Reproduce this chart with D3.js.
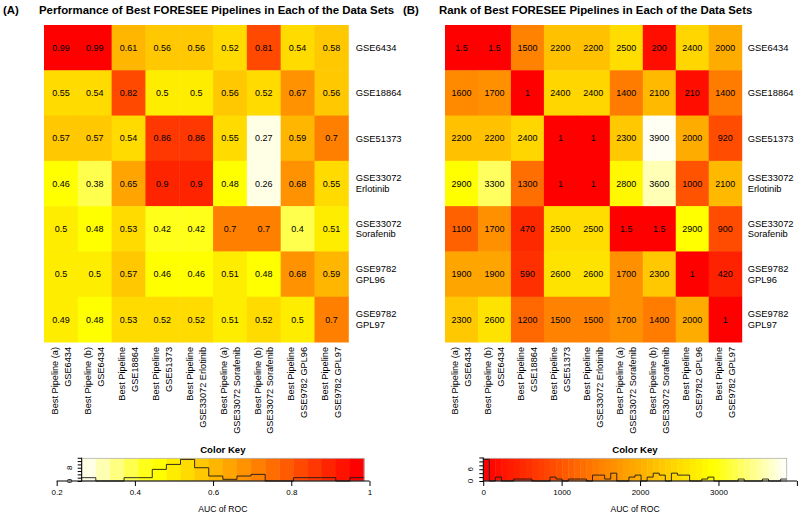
<!DOCTYPE html>
<html><head><meta charset="utf-8">
<script src="https://cdn.jsdelivr.net/npm/d3@7"></script>
<style>
body{margin:0;background:#fff}
text{font-family:"Liberation Sans",Arial,Helvetica,sans-serif;fill:#000}
</style>
</head><body>
<svg id="c" width="800" height="514"></svg>
<script>
// ---------- data ----------
const rowLabels = [["GSE6434"],["GSE18864"],["GSE51373"],["GSE33072","Erlotinib"],["GSE33072","Sorafenib"],["GSE9782","GPL96"],["GSE9782","GPL97"]];
const colLabels = [
  ["Best Pipeline (a)","GSE6434"],["Best Pipeline (b)","GSE6434"],["Best Pipeline","GSE18864"],
  ["Best Pipeline","GSE51373"],["Best Pipeline","GSE33072 Erlotinib"],["Best Pipeline (a)","GSE33072 Sorafenib"],
  ["Best Pipeline (b)","GSE33072 Sorafenib"],["Best Pipeline","GSE9782 GPL96"],["Best Pipeline","GSE9782 GPL97"]];
const aucValues = [
  [0.986,0.986,0.61,0.56,0.56,0.52,0.81,0.54,0.58],
  [0.55,0.54,0.82,0.5,0.5,0.56,0.52,0.67,0.56],
  [0.57,0.57,0.54,0.86,0.86,0.55,0.27,0.59,0.7],
  [0.46,0.38,0.65,0.9,0.9,0.48,0.264,0.68,0.55],
  [0.5,0.48,0.53,0.42,0.42,0.7,0.7,0.4,0.51],
  [0.5,0.5,0.57,0.46,0.46,0.51,0.48,0.68,0.59],
  [0.49,0.48,0.53,0.52,0.52,0.51,0.52,0.5,0.7]];
const rankValues = [
  [1.5,1.5,1500,2200,2200,2500,200,2400,2000],
  [1600,1700,1,2400,2400,1400,2100,210,1400],
  [2200,2200,2400,1,1,2300,3870,2000,920],
  [2900,3300,1300,1,1,2800,3600,1000,2100],
  [1100,1700,470,2500,2500,1.5,1.5,2900,900],
  [1900,1900,590,2600,2600,1700,2300,1,420],
  [2300,2600,1200,1500,1500,1700,1400,2000,1]];
const titles = [["(A)","Performance of Best FORESEE Pipelines in Each of the Data Sets"],
                ["(B)","Rank of Best FORESEE Pipelines in Each of the Data Sets"]];
const aucAxisTicks = [0.2,0.4,0.6,0.8,1];
const aucAxisLabels = ["0.2","0.4","0.6","0.8","1"];
const rankAxisTicks = [0,1000,2000,3000,4000];
const rankAxisLabels = ["0","1000","2000","3000",""];
const aucCountTicks = [0,2,4,6,8,10,12,14];
const aucCountLabels = [0,8];
const rankCountTicks = [0,2,4,6,8,10,12];
const rankCountLabels = [0,6];
const keyTitle = "Color Key";
const keyXLabel = "AUC of ROC";

// ---------- R colour palettes ----------
function hex(r,g,b){return "#"+[r,g,b].map(v=>Math.round(v*255).toString(16).padStart(2,"0")).join("");}
function heatColors(n){
  const j = Math.floor(n/4), i = n-j, out=[];
  for(let k=0;k<i;k++){const h = i>1 ? (1/6)*k/(i-1) : 0; out.push(hex(1,h*6,0));}
  for(let k=0;k<j;k++){const s = j>1 ? (1-1/(2*j)) - k*((1-1/(2*j))-1/(2*j))/(j-1) : 1-1/(2*j); out.push(hex(1,1,1-s));}
  return out;
}

const svg = d3.select("#c");
const fmt = d3.format(".2~r");

const panels = [
  {values:aucValues, colors:heatColors(20).reverse(), x0:44, x1:348.3, labX:355.7,
   kx0:81.7, kx1:364, axTicks:aucAxisTicks, axLabels:aucAxisLabels,
   cTicks:aucCountTicks, cLabels:aucCountLabels, title:titles[0], tx:3, tx2:39},
  {values:rankValues, colors:heatColors(50), x0:445, x1:741.7, labX:747.7,
   kx0:483.3, kx1:786.7, axTicks:rankAxisTicks, axLabels:rankAxisLabels,
   cTicks:rankCountTicks, cLabels:rankCountLabels, title:titles[1], tx:403, tx2:439}
];
const y0 = 25, y1 = 342, ky0 = 458.3, ky1 = 481;

panels.forEach(p=>{
  const g = svg.append("g");
  const flat = p.values.flat();
  const [mn, mx] = d3.extent(flat);
  const n = p.colors.length;
  const color = d3.scaleQuantize().domain([mn,mx]).range(p.colors);
  const x = d3.scaleBand().domain(d3.range(colLabels.length)).range([p.x0,p.x1]);
  const y = d3.scaleBand().domain(d3.range(rowLabels.length)).range([y0,y1]);

  // title
  g.append("text").attr("x",p.tx).attr("y",14).style("font-weight","bold").style("font-size","11.4px").text(p.title[0]);
  g.append("text").attr("x",p.tx2).attr("y",14).style("font-weight","bold").style("font-size","11.4px").text(p.title[1]);

  // cells
  const cells = [];
  p.values.forEach((row,r)=>row.forEach((v,c)=>cells.push({r,c,v})));
  g.selectAll("rect.cell").data(cells).join("rect").attr("class","cell")
    .attr("x",d=>x(d.c)).attr("y",d=>y(d.r))
    .attr("width",x.bandwidth()+0.5).attr("height",y.bandwidth()+0.5)
    .attr("fill",d=>color(d.v));
  g.selectAll("text.val").data(cells).join("text").attr("class","val")
    .attr("x",d=>x(d.c)+x.bandwidth()/2).attr("y",d=>y(d.r)+y.bandwidth()/2)
    .attr("text-anchor","middle").attr("dy","0.35em").style("font-size","9px")
    .text(d=>fmt(d.v));

  // row labels
  rowLabels.forEach((lines,r)=>{
    const t = g.append("text").attr("x",p.labX).style("font-size","9.4px");
    const cy = y(r)+y.bandwidth()/2, lh = 10.8;
    lines.forEach((s,i)=>{
      t.append("tspan").attr("x",p.labX).attr("y",cy+(i-(lines.length-1)/2)*lh).attr("dy","0.35em").text(s);
    });
  });

  // column labels (vertical)
  colLabels.forEach((lines,c)=>{
    const cx = x(c)+x.bandwidth()/2, top = y1+5, lh = 13;
    const t = g.append("text").attr("transform",`translate(${cx},${top}) rotate(-90)`)
      .attr("text-anchor","end").style("font-size","9.2px");
    lines.forEach((s,i)=>{
      t.append("tspan").attr("x",0).attr("y",(i-(lines.length-1)/2)*lh).attr("dy","0.35em").text(s);
    });
  });

  // ---------- colour key ----------
  const kx = d3.scaleLinear().domain([mn,mx]).range([p.kx0,p.kx1]);
  const breaks = d3.range(n+1).map(i=>mn+(mx-mn)*i/n);
  g.selectAll("rect.key").data(d3.range(n)).join("rect").attr("class","key")
    .attr("x",i=>kx(breaks[i])).attr("y",ky0)
    .attr("width",i=>kx(breaks[i+1])-kx(breaks[i])+0.4).attr("height",ky1-ky0)
    .attr("fill",i=>p.colors[i]);
  g.append("rect").attr("x",p.kx0).attr("y",ky0).attr("width",p.kx1-p.kx0).attr("height",ky1-ky0)
    .attr("fill","none").attr("stroke","#b0b0b0").attr("stroke-width",0.8);

  // histogram
  const bins = d3.bin().domain([mn,mx]).thresholds(breaks.slice(1,-1))(flat);
  const counts = bins.map(b=>b.length);
  const maxC = d3.max(counts);
  const ky = d3.scaleLinear().domain([0,maxC/0.95]).range([ky1,ky0]);
  const pts = counts.map((c,i)=>[breaks[i],c]).concat([[breaks[n],counts[n-1]]]);
  g.append("path").attr("d",d3.line().x(d=>kx(d[0])).y(d=>ky(d[1])).curve(d3.curveStepAfter)(pts))
    .attr("fill","none").attr("stroke","#1a1a1a").attr("stroke-width",0.9);

  // key title and axis label
  const kc = (p.kx0+p.kx1)/2;
  g.append("text").attr("x",kc).attr("y",452.5).attr("text-anchor","middle")
    .style("font-weight","bold").style("font-size","9.6px").text(keyTitle);
  g.append("text").attr("x",kc).attr("y",512).attr("text-anchor","middle")
    .style("font-size","8.6px").text(keyXLabel);

  // x axis of key
  const xa = g.append("g").attr("transform",`translate(0,${ky1})`)
    .call(d3.axisBottom(kx).tickValues(p.axTicks).tickSize(5).tickPadding(3)
      .tickFormat((d,i)=>p.axLabels[i]));
  xa.select(".domain").remove();
  xa.append("line").attr("x1",kx(p.axTicks[0])).attr("x2",kx(p.axTicks[p.axTicks.length-1]))
    .attr("stroke","#000");
  xa.selectAll("text").style("font-size","8px").style("font-family","Liberation Sans, Arial, sans-serif");

  // y axis of key (counts)
  const ya = g.append("g").attr("transform",`translate(${p.kx0},0)`)
    .call(d3.axisLeft(ky).tickValues(p.cTicks).tickSize(4).tickFormat(""));
  ya.select(".domain").remove();
  ya.append("line").attr("y1",ky(p.cTicks[0])).attr("y2",ky(p.cTicks[p.cTicks.length-1])).attr("stroke","#000");
  p.cLabels.forEach(v=>{
    g.append("text").attr("transform",`translate(${p.kx0-10},${ky(v)}) rotate(-90)`)
      .attr("text-anchor","middle").style("font-size","8px").text(v);
  });
});
</script>
</body></html>
